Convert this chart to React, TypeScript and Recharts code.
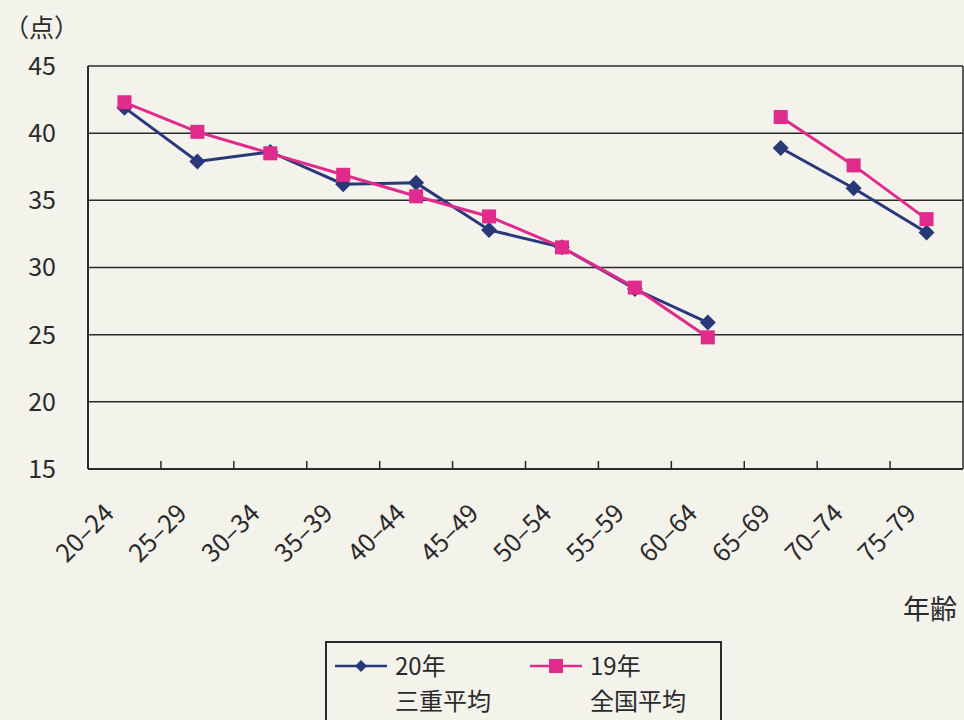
import React from 'react'
import {
  LineChart, Line, XAxis, YAxis, CartesianGrid, Legend,
} from 'recharts'

// 年齢階級
const ages = [
  '20–24', '25–29', '30–34', '35–39', '40–44', '45–49',
  '50–54', '55–59', '60–64', '65–69', '70–74', '75–79',
]
// 20年 三重平均
const mie20 = [41.9, 37.9, 38.6, 36.2, 36.3, 32.8, 31.5, 28.4, 25.9, 38.9, 35.9, 32.6]
// 19年 全国平均
const zenkoku19 = [42.3, 40.1, 38.5, 36.9, 35.3, 33.8, 31.5, 28.5, 24.8, 41.2, 37.6, 33.6]
const yTicks = [15, 20, 25, 30, 35, 40, 45]
// 60–64 と 65–69 の間で線が切れている
const breakIndex = 9

const W = 964
const H = 720
const PLOT_LEFT = 88
const PLOT_RIGHT = 963
const BAND = (PLOT_RIGHT - PLOT_LEFT) / ages.length

const NAVY = '#283878'
const PINK = '#e02a8c'
const INK = '#2a2a2a'
const FONT = '"Noto Sans CJK JP", "Noto Sans", sans-serif'

const data = ages.map((age, i) => ({
  age,
  mieA: i < breakIndex ? mie20[i] : null,
  mieB: i >= breakIndex ? mie20[i] : null,
  zenA: i < breakIndex ? zenkoku19[i] : null,
  zenB: i >= breakIndex ? zenkoku19[i] : null,
}))

function diamondDot(props: any) {
  const { cx, cy, key } = props
  if (cx == null || cy == null) return <g key={key} />
  const r = 8
  return (
    <path key={key} d={`M${cx},${cy - r}L${cx + r},${cy}L${cx},${cy + r}L${cx - r},${cy}Z`} fill={NAVY} />
  )
}

function squareDot(props: any) {
  const { cx, cy, key } = props
  if (cx == null || cy == null) return <g key={key} />
  const s = 14
  return <rect key={key} x={cx - s / 2} y={cy - s / 2} width={s} height={s} fill={PINK} />
}

function AgeTick(props: any) {
  const { x, y, payload, index } = props
  return (
    <g>
      {index < ages.length - 1 && (
        <line x1={x + BAND / 2} x2={x + BAND / 2} y1={y} y2={y - 8} stroke={INK} strokeWidth={1.5} />
      )}
      <text
        transform={`translate(${x - 9},${y + 46}) rotate(-45)`}
        textAnchor="end"
        fontSize={25}
        fill={INK}
        fontFamily={FONT}
      >
        {payload.value}
      </text>
    </g>
  )
}

function LegendBox() {
  const item = (color: string, marker: React.ReactNode, l1: string, l2: string) => (
    <div style={{ display: 'flex', alignItems: 'flex-start' }}>
      <svg width={56} height={30} style={{ marginTop: 4 }}>
        <line x1={2} x2={54} y1={15} y2={15} stroke={color} strokeWidth={2.5} />
        {marker}
      </svg>
      <div style={{ marginLeft: 6, lineHeight: '35px', fontSize: 24, color: INK }}>
        <div>{l1}</div>
        <div>{l2}</div>
      </div>
    </div>
  )
  return (
    <div
      style={{
        width: 397, height: 90, border: `2px solid ${INK}`, boxSizing: 'border-box',
        display: 'flex', padding: '4px 0 0 6px', fontFamily: FONT,
      }}
    >
      <div style={{ width: 195 }}>
        {item(NAVY, <path d="M28,9L34,15L28,21L22,15Z" fill={NAVY} />, '20年', '三重平均')}
      </div>
      <div>
        {item(PINK, <rect x={21} y={8} width={14} height={14} fill={PINK} />, '19年', '全国平均')}
      </div>
    </div>
  )
}

export default function App() {
  return (
    <div style={{ position: 'relative', width: W, height: H, background: '#f3f2eb', overflow: 'hidden', fontFamily: FONT }}>
      <style>{'body{margin:0}'}</style>
      <div style={{ position: 'absolute', left: 4, top: 8, fontSize: 25, color: INK }}>（点）</div>
      <div style={{ position: 'absolute', left: 903, top: 588, fontSize: 27, color: INK }}>年齢</div>
      <LineChart width={W} height={H} data={data} margin={{ top: 66, right: 0, left: 0, bottom: 0 }}>
        <CartesianGrid horizontal vertical={false} stroke={INK} strokeWidth={1.5} />
        <XAxis
          dataKey="age"
          scale="band"
          interval={0}
          height={251}
          tickSize={0}
          tickMargin={0}
          tick={<AgeTick />}
          axisLine={{ stroke: INK, strokeWidth: 2 }}
        />
        <YAxis
          domain={[15, 45]}
          ticks={yTicks}
          width={PLOT_LEFT}
          tickSize={0}
          tickMargin={32}
          axisLine={{ stroke: INK, strokeWidth: 2 }}
          tick={{ fill: INK, fontSize: 25, fontFamily: FONT }}
        />
        <YAxis
          yAxisId="r"
          orientation="right"
          domain={[15, 45]}
          width={1}
          tick={false}
          tickLine={false}
          axisLine={{ stroke: INK, strokeWidth: 1.5 }}
        />
        <Line dataKey="mieA" stroke={NAVY} strokeWidth={3} dot={diamondDot} activeDot={false} isAnimationActive={false} />
        <Line dataKey="mieB" stroke={NAVY} strokeWidth={3} dot={diamondDot} activeDot={false} isAnimationActive={false} />
        <Line dataKey="zenA" stroke={PINK} strokeWidth={3} dot={squareDot} activeDot={false} isAnimationActive={false} />
        <Line dataKey="zenB" stroke={PINK} strokeWidth={3} dot={squareDot} activeDot={false} isAnimationActive={false} />
        <Legend
          layout="horizontal"
          verticalAlign="middle"
          align="center"
          wrapperStyle={{ left: 325, top: 641, width: 400, height: 90 }}
          content={() => <LegendBox />}
        />
      </LineChart>
    </div>
  )
}
